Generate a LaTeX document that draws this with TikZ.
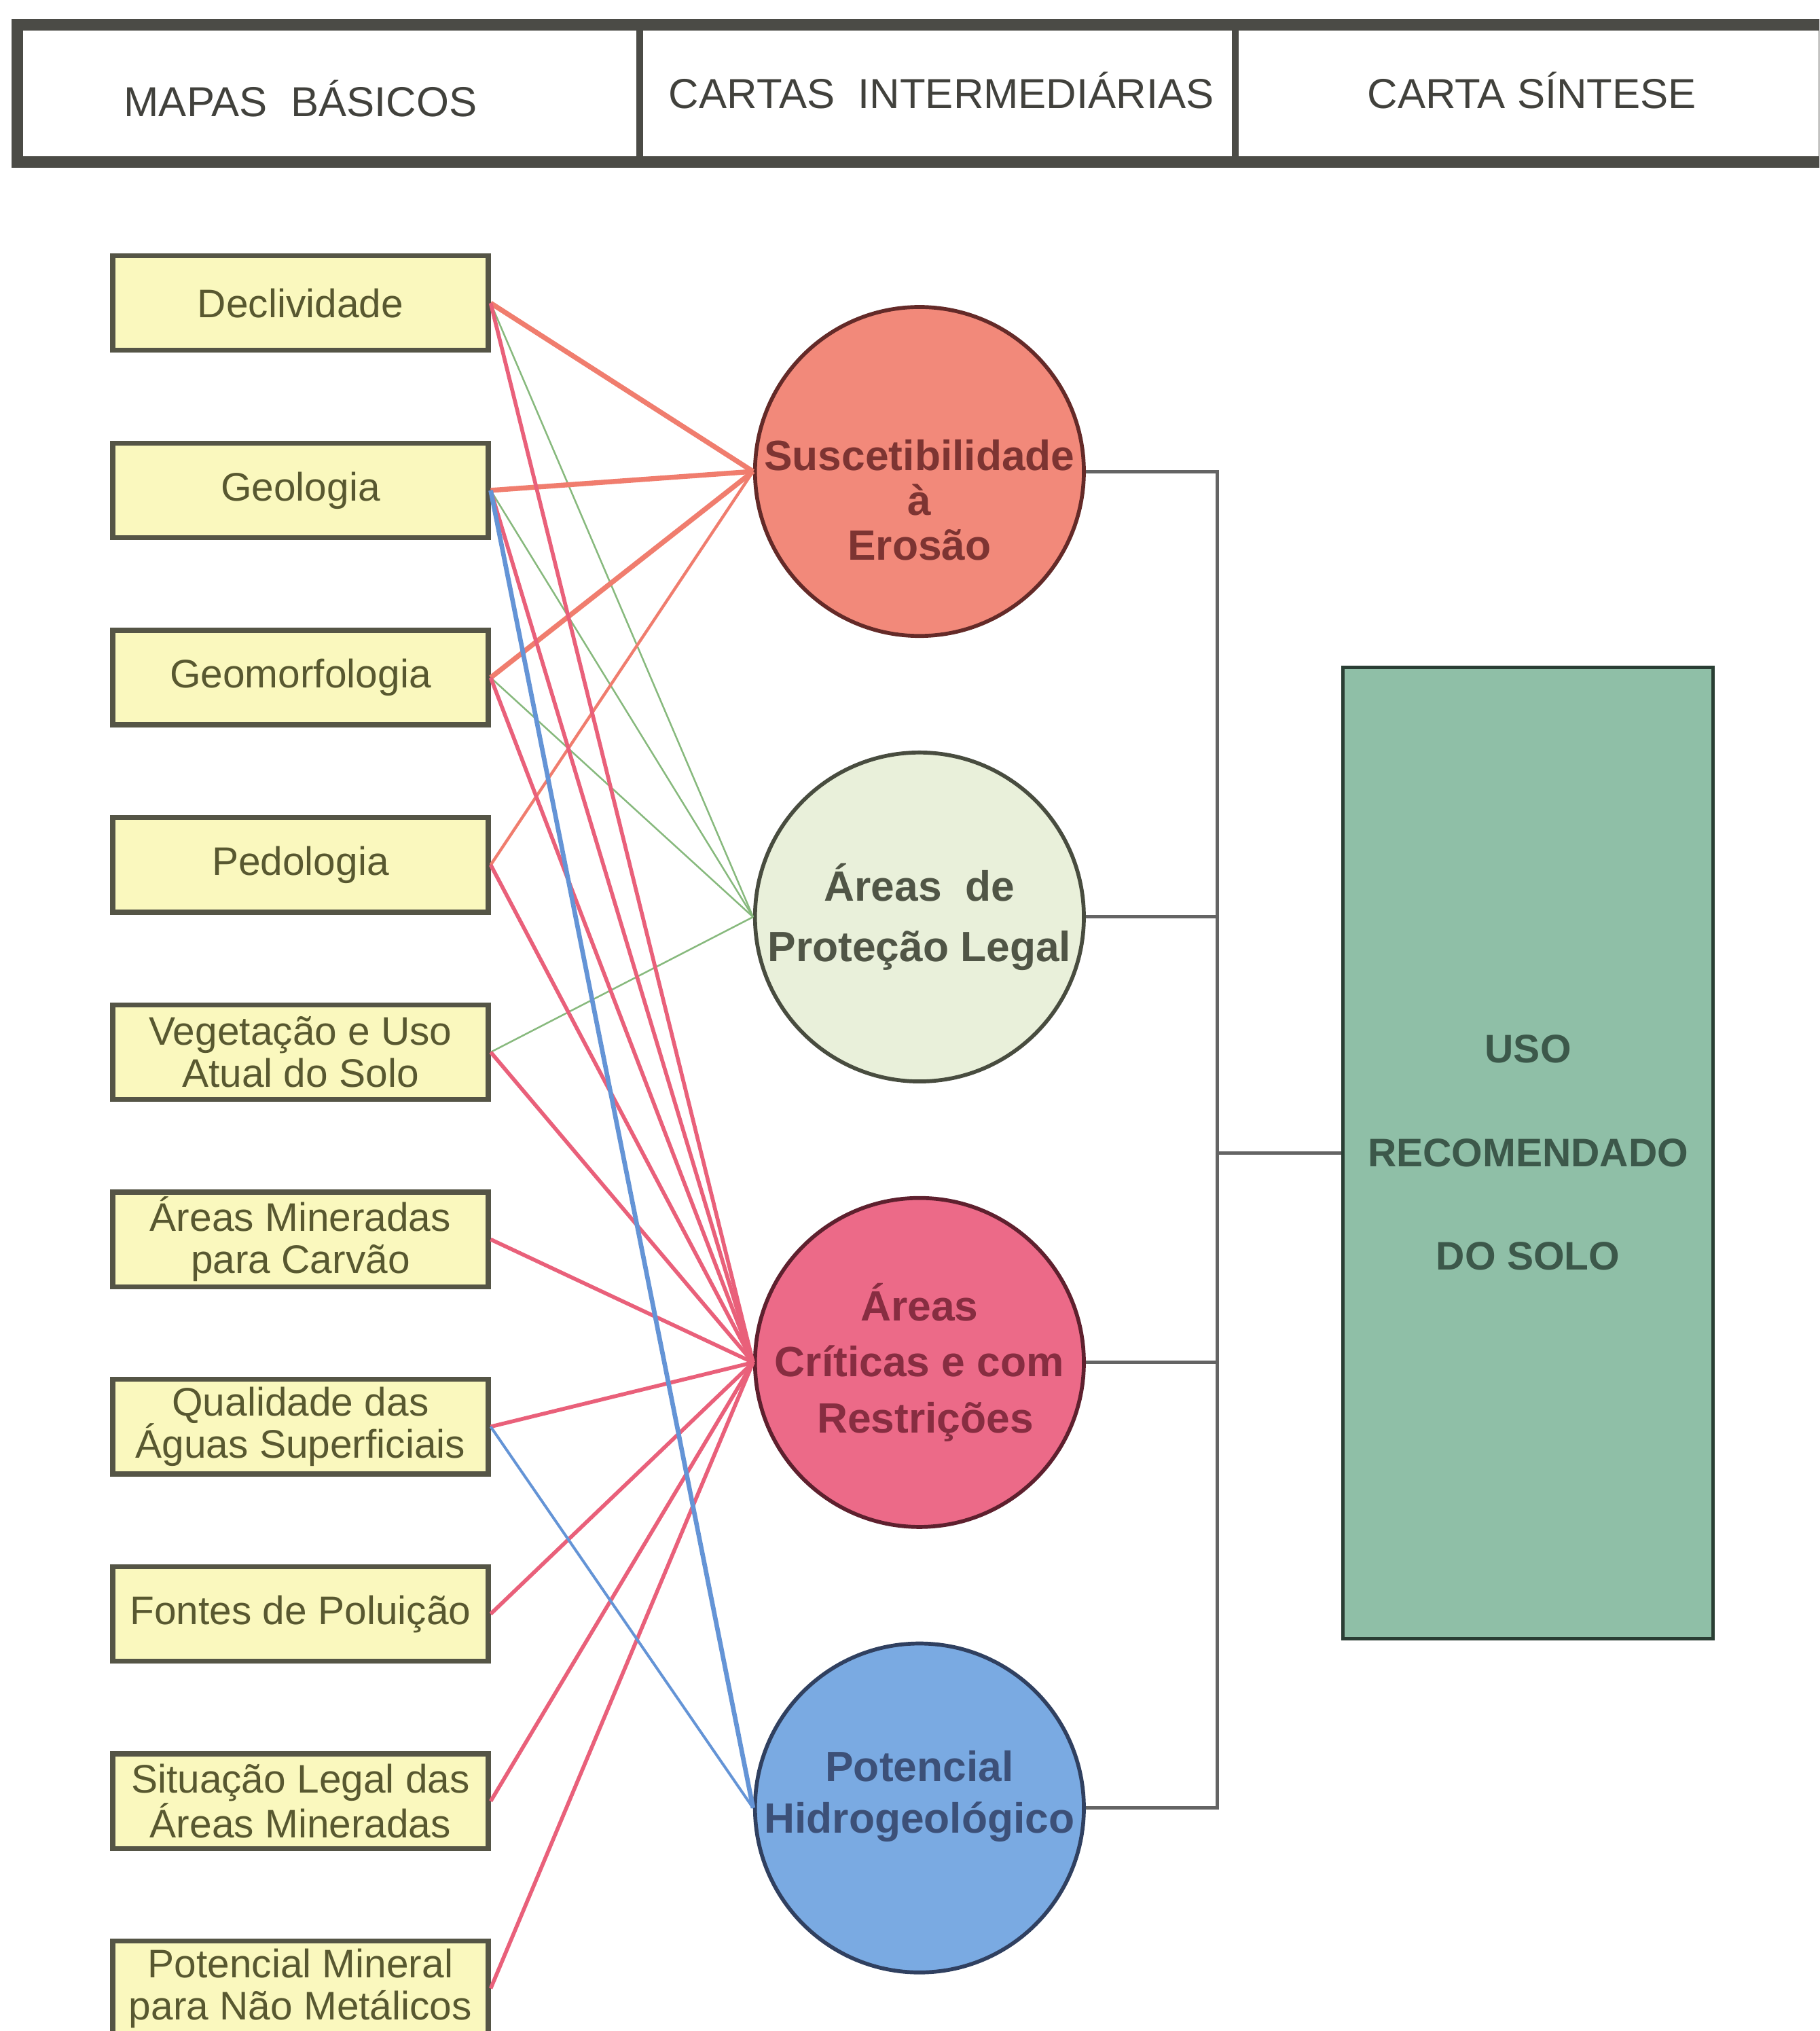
\documentclass[tikz,border=0pt]{standalone}
\usepackage{fontspec}
\setmainfont{Liberation Sans}
\usetikzlibrary{positioning}

\definecolor{boxfill}{RGB}{250,248,190}
\definecolor{boxline}{RGB}{85,85,70}
\definecolor{boxtext}{RGB}{88,88,48}
\definecolor{headline}{RGB}{75,75,70}
\definecolor{headtext}{RGB}{65,65,60}
\definecolor{erosfill}{RGB}{242,137,122}
\definecolor{erostext}{RGB}{125,52,50}
\definecolor{protfill}{RGB}{233,240,218}
\definecolor{prottext}{RGB}{80,85,70}
\definecolor{critfill}{RGB}{236,106,136}
\definecolor{crittext}{RGB}{135,45,65}
\definecolor{hidrfill}{RGB}{122,170,226}
\definecolor{hidrtext}{RGB}{60,80,120}
\definecolor{sintfill}{RGB}{143,191,167}
\definecolor{sinttext}{RGB}{60,88,74}
\definecolor{erosline}{RGB}{240,125,110}
\definecolor{protline}{RGB}{135,185,125}
\definecolor{critline}{RGB}{233,96,122}
\definecolor{hidrline}{RGB}{100,148,214}
\definecolor{bracketline}{RGB}{100,100,100}

\tikzset{
  mapa/.style={draw=boxline, line width=2.2pt, fill=boxfill, text=boxtext,
    minimum width=5.8cm, minimum height=1.46cm, inner sep=0pt, align=center,
    font=\fontsize{17.5}{18.5}\selectfont},
  carta/.style={circle, line width=1.7pt, minimum size=5.08cm, inner sep=0pt},
  ctxt/.style={align=center, inner sep=0pt, font=\fontsize{18.6}{22}\selectfont\bfseries},
  htxt/.style={text=headtext, font=\fontsize{18.4}{20}\selectfont},
  bracket/.style={draw=bracketline, line width=1.5pt},
  tosusc/.style={draw=erosline, line width=2.2pt},
  toprot/.style={draw=protline, line width=0.75pt},
  tocrit/.style={draw=critline, line width=1.7pt},
  tohidr/.style={draw=hidrline, line width=1.7pt}
}

\begin{document}
\begin{tikzpicture}[x=0.02cm, y=-0.02cm, node distance=2.892cm]

\useasboundingbox (0,0) rectangle (1405,1568);
\clip (0,0) rectangle (1405,1568);

\draw[headline, line width=5.2pt] (13.5,19) rectangle (1409,125);
\draw[headline, line width=3pt] (494,19) -- (494,125);
\draw[headline, line width=3pt] (954,19) -- (954,125);
\node[htxt] (h1) at (232,76) {MAPAS~ BÁSICOS};
\node[htxt] (h2) at (727,70) {CARTAS~ INTERMEDIÁRIAS};
\node[htxt] (h3) at (1183,70) {CARTA SÍNTESE};

\node[mapa] (m1) at (232,234) {Declividade};
\node[mapa] (m2) [below of = m1] {Geologia};
\node[mapa] (m3) [below of = m2] {Geomorfologia};
\node[mapa] (m4) [below of = m3] {Pedologia};
\node[mapa] (m5) [below of = m4] {Vegetação e Uso\\Atual do Solo};
\node[mapa] (m6) [below of = m5] {Áreas Mineradas\\para Carvão};
\node[mapa] (m7) [below of = m6] {Qualidade das\\Águas Superficiais};
\node[mapa] (m8) [below of = m7] {Fontes de Poluição};
\node[mapa] (m9) [below of = m8] {Situação Legal das\\Áreas Mineradas};
\node[mapa] (m10) [below of = m9] {Potencial Mineral\\para Não Metálicos};

\node[carta, draw=erostext!80!black, fill=erosfill,
  label={[ctxt, text=erostext, yshift=-0.44cm, font=\fontsize{18.6}{19.7}\selectfont\bfseries]center:Suscetibilidade\\à\\Erosão}] (c1) at (710,364) {};
\node[carta, draw=prottext!90!black, fill=protfill, node distance=6.88cm,
  label={[ctxt, text=prottext, font=\fontsize{18.6}{26.5}\selectfont\bfseries]center:Áreas~ de\\Proteção Legal}] (c2) [below of = c1] {};
\node[carta, draw=crittext!70!black, fill=critfill, node distance=6.88cm,
  label={[ctxt, text=crittext, font=\fontsize{18.6}{24.5}\selectfont\bfseries]center:Áreas\\Críticas e com\\~Restrições}] (c3) [below of = c2] {};
\node[carta, draw=hidrtext!80!black, fill=hidrfill, node distance=6.88cm,
  label={[ctxt, text=hidrtext, yshift=0.18cm, font=\fontsize{18.6}{22.8}\selectfont\bfseries]center:Potencial\\Hidrogeológico}] (c4) [below of = c3] {};

\node[draw=sinttext!70!black, line width=1.5pt, fill=sintfill, text=sinttext,
  minimum width=5.72cm, minimum height=15cm, align=center,
  font=\fontsize{17.5}{45.5}\selectfont\bfseries] (s) at (1180,890) {USO\\RECOMENDADO\\DO SOLO};

\coordinate (jn) at (940,890);
\path[bracket] (c1.east) -| (jn) |- (c4.east);
\path[bracket] (c2.east) -- (c2.east -| jn);
\path[bracket] (c3.east) -- (c3.east -| jn);
\path[bracket] (jn) -- (s.west);

\path[toprot] (m1.east) -- (c2.west);
\path[toprot] (m2.east) -- (c2.west);
\path[toprot] (m3.east) -- (c2.west);
\path[toprot] (m5.east) -- (c2.west);

\path[tosusc] (m1.east) -- (c1.west);
\path[tosusc] (m2.east) -- (c1.west);
\path[tosusc] (m3.east) -- (c1.west);
\path[tosusc, line width=1.3pt] (m4.east) -- (c1.west);

\path[tocrit] (m1.east) -- (c3.west);
\path[tocrit] (m2.east) -- (c3.west);
\path[tocrit] (m3.east) -- (c3.west);
\path[tocrit] (m4.east) -- (c3.west);
\path[tocrit] (m5.east) -- (c3.west);
\path[tocrit] (m6.east) -- (c3.west);
\path[tocrit] (m7.east) -- (c3.west);
\path[tocrit] (m8.east) -- (c3.west);
\path[tocrit] (m9.east) -- (c3.west);
\path[tocrit] (m10.east) -- (c3.west);

\path[tohidr, line width=2pt] (m2.east) -- (c4.west);
\path[tohidr, line width=1.2pt] (m7.east) -- (c4.west);

\end{tikzpicture}
\end{document}
